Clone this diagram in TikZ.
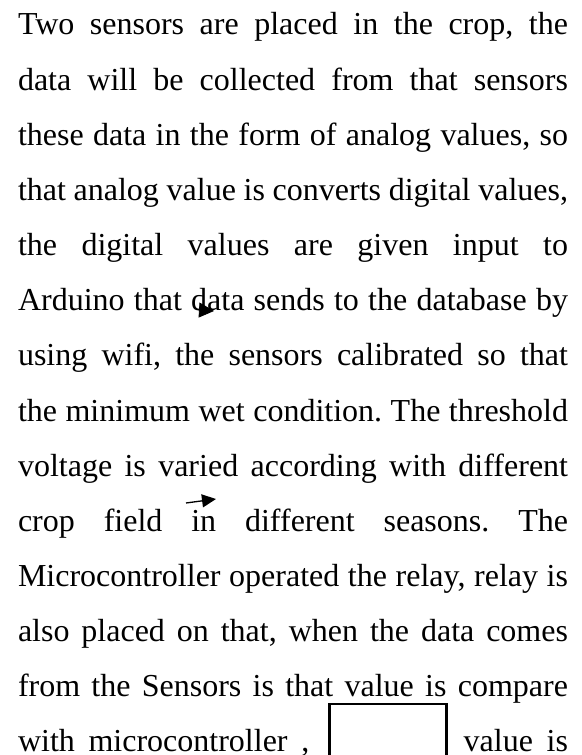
\documentclass[tikz,border=0pt]{standalone}
\usepackage{fontspec}
\setmainfont{Liberation Serif}[Ligatures=NoCommon]
\usetikzlibrary{arrows.meta}
\frenchspacing
\tikzset{
  txtline/.style={anchor=base west, inner sep=0pt, outer sep=0pt, font=\fontsize{32pt}{38pt}\selectfont},
  headonly/.style={-{Triangle[length=15pt,width=15pt]}, line width=0.8pt},
  smallarrow/.style={-{Triangle[length=14pt,width=13pt]}, line width=1.3pt},
  maskbox/.style={draw=black, fill=white, line width=2.5pt}
}
\newcommand{\jline}[1]{\makebox[550pt][s]{#1}}
\begin{document}
\begin{tikzpicture}[x=1pt,y=1pt]
\useasboundingbox (0,0) rectangle (581,755);
\node[txtline] (l1) at (18,720) {\jline{Two sensors are placed in the crop, the}};
\node[txtline] (l2) at (18,664.85) {\jline{data will be collected from that sensors}};
\node[txtline] (l3) at (18,609.7) {\jline{these data in the form of analog values, so}};
\node[txtline] (l4) at (18,554.55) {\jline{that analog value is converts digital values,}};
\node[txtline] (l5) at (18,499.4) {\jline{the digital values are given input to}};
\node[txtline] (l6) at (18,444.25) {\jline{Arduino that data sends to the database by}};
\node[txtline] (l7) at (18,389.1) {\jline{using wifi, the sensors calibrated so that}};
\node[txtline] (l8) at (18,333.95) {\jline{the minimum wet condition. The threshold}};
\node[txtline] (l9) at (18,278.8) {\jline{voltage is varied according with different}};
\node[txtline] (l10) at (18,223.65) {\jline{crop field in different seasons. The}};
\node[txtline] (l11) at (18,168.5) {\jline{Microcontroller operated the relay, relay is}};
\node[txtline] (l12) at (18,113.35) {\jline{also placed on that, when the data comes}};
\node[txtline] (l13) at (18,58.2) {\jline{from the Sensors is that value is compare}};
\node[txtline] (l14) at (18,4) {\jline{with microcontroller , \hspace*{127pt} value is}};
% arrow artifacts
\coordinate (a1s) at (198,445);
\coordinate (a1e) at (214,444);
\draw[headonly] (a1s) -- (a1e);
\coordinate (a2s) at (186,252);
\coordinate (a2e) at (216,256);
\draw[smallarrow] (a2s) -- (a2e);
% masking box
\node[maskbox, anchor=north west, minimum width=117pt, minimum height=70pt, inner sep=0pt] (mask) at (328,52) {};
\end{tikzpicture}
\end{document}
